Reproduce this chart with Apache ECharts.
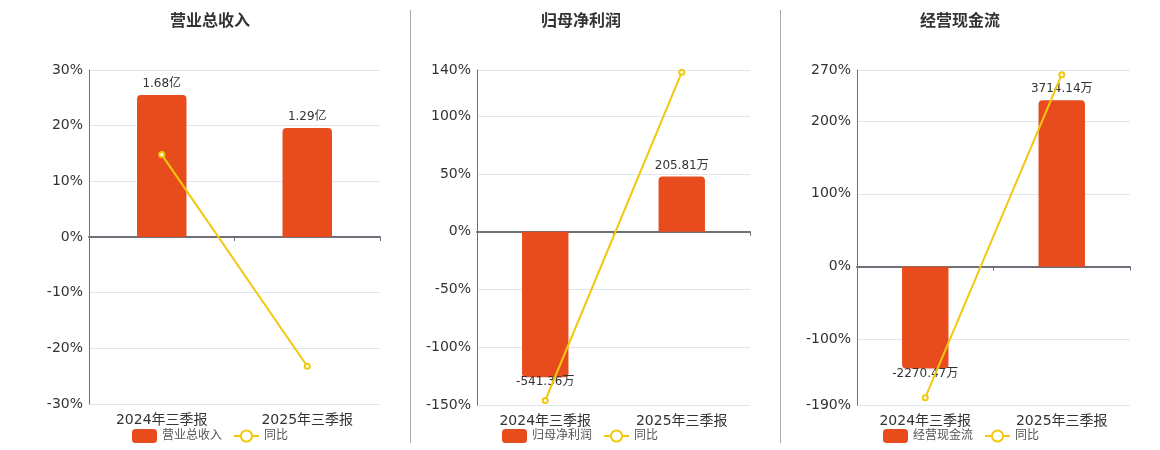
<!DOCTYPE html>
<html>
<head>
<meta charset="utf-8">
<script src="https://cdn.jsdelivr.net/npm/echarts@6/dist/echarts.min.js"></script>
<style>
  html, body { margin: 0; padding: 0; background: #fff; }
  #main { width: 1160px; height: 450px; }
</style>
</head>
<body>
<div id="main"></div>
<script>
var categories = ['2024年三季报', '2025年三季报'];

// 营业总收入 (亿) and 同比 (%)
var revenue = [1.68, 1.29];
var revenueYoy = [14.8, -23.21];
// 归母净利润 (万) and 同比 (%)
var netProfit = [-541.36, 205.81];
var netProfitYoy = [-146.1, 138.0];
// 经营现金流 (万) and 同比 (%)
var cashFlow = [-2270.47, 3714.14];
var cashFlowYoy = [-180.0, 263.6];

var titles = ['营业总收入', '归母净利润', '经营现金流'];
var units = ['亿', '万', '万'];
var yoyRanges = [[-30, 30], [-150, 140], [-190, 270]];

var barColor = '#E84C1D';
var lineColor = '#F2C80F';
var fontFamily = "'DejaVu Sans', 'Noto Sans CJK SC', sans-serif";

var panels = [
  { bars: revenue, yoy: revenueYoy, k: 0.0659, grid: { left: 89, top: 70, width: 291, height: 334 }, center: 210, legendLeft: 132 },
  { bars: netProfit, yoy: netProfitYoy, k: 4.3, grid: { left: 477, top: 70, width: 273, height: 335 }, center: 581, legendLeft: 502 },
  { bars: cashFlow, yoy: cashFlowYoy, k: 16.25, grid: { left: 857, top: 70, width: 273, height: 335 }, center: 960, legendLeft: 883 }
];

var option = {
  animation: false,
  backgroundColor: '#fff',
  textStyle: { fontFamily: fontFamily },
  title: [], grid: [], xAxis: [], yAxis: [], series: [], legend: [],
  graphic: [
    { type: 'line', shape: { x1: 410.5, y1: 10, x2: 410.5, y2: 443 }, style: { stroke: '#aaa', lineWidth: 1 } },
    { type: 'line', shape: { x1: 780.5, y1: 10, x2: 780.5, y2: 443 }, style: { stroke: '#aaa', lineWidth: 1 } }
  ]
};

panels.forEach(function (p, i) {
  var range = yoyRanges[i];
  option.title.push({
    text: titles[i], left: p.center, top: 14, textAlign: 'center', padding: 0,
    textStyle: { fontSize: 16, fontWeight: 'bold', color: '#333', fontFamily: fontFamily }
  });
  option.grid.push(p.grid);
  // axis line on zero with ticks
  option.xAxis.push({
    type: 'category', gridIndex: i, data: categories,
    axisLine: { onZero: true, onZeroAxisIndex: i * 2, lineStyle: { color: '#6E7079', width: 2 } },
    axisTick: { show: true, length: 4, lineStyle: { color: '#6E7079' } },
    axisLabel: { show: false }
  });
  // labels at the bottom
  option.xAxis.push({
    type: 'category', gridIndex: i, data: categories, position: 'bottom',
    axisLine: { show: false, onZero: false }, axisTick: { show: false },
    axisLabel: { fontSize: 14, color: '#333', margin: 9 }
  });
  option.yAxis.push({
    type: 'value', gridIndex: i, min: range[0], max: range[1],
    axisLine: { show: true, lineStyle: { color: '#6E7079' } },
    axisTick: { show: false },
    axisLabel: { formatter: '{value}%', fontSize: 14, color: '#333', margin: 6 },
    splitLine: { lineStyle: { color: '#E0E6F1' } }
  });
  option.yAxis.push({
    type: 'value', gridIndex: i, min: range[0] * p.k, max: range[1] * p.k, show: false,
    splitLine: { show: false }
  });
  option.series.push({
    name: titles[i], type: 'bar', xAxisIndex: i * 2, yAxisIndex: i * 2 + 1,
    barWidth: '34%',
    data: p.bars.map(function (v) {
      return {
        value: v,
        itemStyle: { color: barColor, borderRadius: v >= 0 ? [4, 4, 0, 0] : [0, 0, 4, 4] },
        label: { position: v >= 0 ? 'top' : 'bottom', distance: v >= 0 ? 5 : -1 }
      };
    }),
    itemStyle: { color: barColor },
    label: {
      show: true, fontSize: 12, color: '#333',
      formatter: function (pr) { return pr.value + units[i]; }
    }
  });
  option.series.push({
    name: '同比', type: 'line', xAxisIndex: i * 2, yAxisIndex: i * 2,
    data: p.yoy, symbol: 'emptyCircle', symbolSize: 5,
    lineStyle: { color: lineColor, width: 2 },
    itemStyle: { color: lineColor, borderColor: lineColor, borderWidth: 1.5 },
    z: 5
  });
  option.legend.push({
    data: [titles[i], '同比'], left: p.legendLeft, top: 429, padding: 0,
    itemWidth: 25, itemHeight: 14, itemGap: 11,
    textStyle: { fontSize: 12, color: '#555', fontFamily: fontFamily },
    selectedMode: false
  });
});

var myChart = echarts.init(document.getElementById('main'));
myChart.setOption(option);
</script>
</body>
</html>
